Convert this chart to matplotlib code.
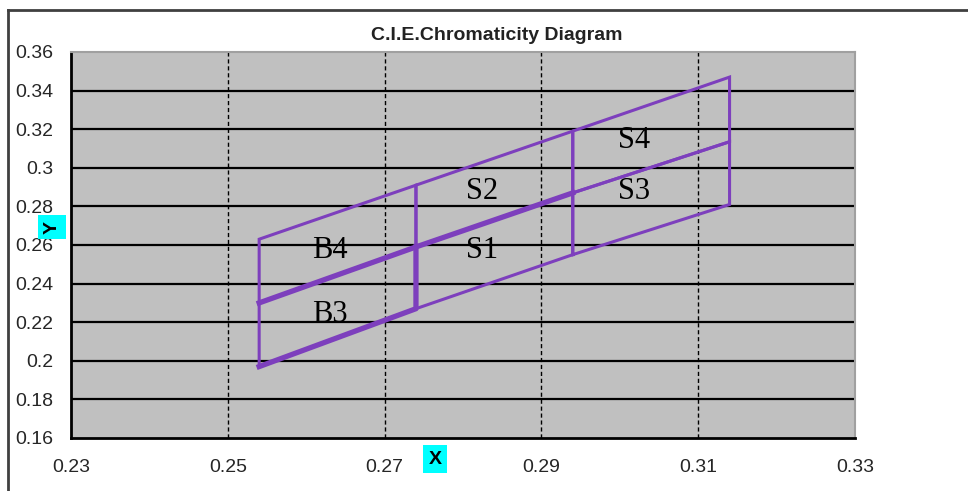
#C.I.E. chromaticity diagram with bin quadrangles
import matplotlib
matplotlib.use("Agg")
import matplotlib.pyplot as plt
from matplotlib.lines import Line2D

#Corner x of the bins and the three boundary lines (y at each corner x)
x_cols = [0.254, 0.274, 0.294, 0.314]
y_top = [0.263, 0.291, 0.319, 0.347]
y_mid = [0.230, 0.259, 0.287, 0.3135]
y_bot = [0.197, 0.227, 0.255, 0.281]

#Bin names and where their names are written
bin_names = ['B4', 'B3', 'S1', 'S2', 'S3', 'S4']
name_x = [0.263, 0.263, 0.2824, 0.2824, 0.3018, 0.3018]
name_y = [0.257, 0.2242, 0.257, 0.2875, 0.2875, 0.3139]

x_ticks = [0.23, 0.25, 0.27, 0.29, 0.31, 0.33]
x_tick_labels = ['0.23', '0.25', '0.27', '0.29', '0.31', '0.33']
y_ticks = [0.16, 0.18, 0.2, 0.22, 0.24, 0.26, 0.28, 0.3, 0.32, 0.34, 0.36]
y_tick_labels = ['0.16', '0.18', '0.2', '0.22', '0.24', '0.26', '0.28', '0.3', '0.32', '0.34', '0.36']

purple = '#7d3fbd'
W, H = 968, 491

fig = plt.figure(figsize=(W / 100, H / 100), dpi=100)
ax = fig.add_axes([71 / W, 1 - 438 / H, 784 / W, 386 / H])
ax.set_facecolor('#c0c0c0')
ax.set_xlim(0.23, 0.33)
ax.set_ylim(0.16, 0.36)

#grid: solid horizontal, dashed vertical
for yv in y_ticks[1:-1]:
    ax.axhline(yv, color='black', lw=1.6, zorder=1)
for xv in x_ticks[1:-1]:
    ax.axvline(xv, color='black', lw=1.0, ls=(0, (3, 2)), zorder=1)

#each bin is a quadrangle between two columns and two boundary lines
for i in range(3):
    for lo, hi in [(y_bot, y_mid), (y_mid, y_top)]:
        xs = [x_cols[i], x_cols[i + 1], x_cols[i + 1], x_cols[i], x_cols[i]]
        ys = [lo[i], lo[i + 1], hi[i + 1], hi[i], lo[i]]
        ax.plot(xs, ys, color=purple, lw=2.2, zorder=3, solid_joinstyle='miter')

#heavier edges around B3 and over S1
ax.plot([x_cols[0], x_cols[1], x_cols[1]], [y_bot[0], y_bot[1], y_mid[1]],
        color=purple, lw=3.8, zorder=4)
ax.plot(x_cols[:3], y_mid[:3], color=purple, lw=3.8, zorder=4)

for n, tx, ty in zip(bin_names, name_x, name_y):
    ax.text(tx, ty, n, ha='center', va='center', fontsize=22,
            family='Liberation Serif', color='black', zorder=5)

ax.set_xticks(x_ticks)
ax.set_xticklabels(x_tick_labels)
ax.set_yticks(y_ticks)
ax.set_yticklabels(y_tick_labels)
ax.tick_params(length=0, labelsize=14, labelcolor='#262626')
ax.tick_params(axis='y', pad=13)
ax.tick_params(axis='x', pad=15)
for lab in ax.get_xticklabels() + ax.get_yticklabels():
    lab.set_family('Liberation Sans')

ax.spines['left'].set_color('black')
ax.spines['bottom'].set_color('black')
ax.spines['left'].set_linewidth(2)
ax.spines['bottom'].set_linewidth(2)
ax.spines['top'].set_color('#a0a0a0')
ax.spines['right'].set_color('#a0a0a0')
ax.spines['top'].set_linewidth(1.5)
ax.spines['right'].set_linewidth(1.5)

fig.text(497 / W, 1 - 36 / H, 'C.I.E.Chromaticity Diagram', ha='center', va='center',
         fontsize=14, fontweight='bold', family='Liberation Sans', color='#222222')

box = dict(facecolor='#00ffff', edgecolor='none', boxstyle='square,pad=0.3')
fig.text(435 / W, 1 - 459 / H, 'X', ha='center', va='center', fontsize=14,
         fontweight='bold', family='Liberation Sans', bbox=box)
fig.text(52 / W, 1 - 227 / H, 'Y', ha='center', va='center', fontsize=14, rotation=90,
         fontweight='bold', family='Liberation Sans', bbox=box)

#outer frame, only top and left
fig.add_artist(Line2D([7.5 / W, 1], [1 - 9.5 / H, 1 - 9.5 / H], color='#404040', lw=2))
fig.add_artist(Line2D([7.5 / W, 7.5 / W], [0, 1 - 9.5 / H], color='#404040', lw=2))

fig.savefig('out.png', dpi=100)
